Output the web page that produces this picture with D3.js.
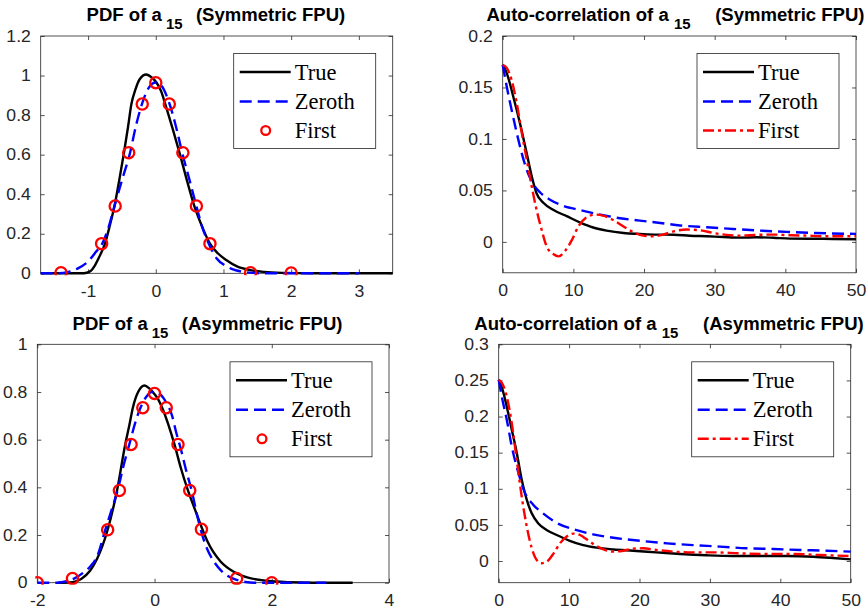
<!DOCTYPE html>
<html>
<head>
<meta charset="utf-8">
<script src="https://cdn.jsdelivr.net/npm/d3@7"></script>
<style>
  body { margin: 0; background: #fff; }
  svg { display: block; }
  .sans { font-family: "Liberation Sans", Arial, Helvetica, sans-serif; }
  .serif { font-family: "Liberation Serif", "Times New Roman", Times, serif; }
</style>
</head>
<body>
<svg id="fig" width="868" height="614"></svg>
<script>
// ---------- PDF of a15, symmetric FPU ----------
const symPdfTrue = [[-1.7,0],[-1.1,0],[-1.02,0.003],[-0.96,0.012],[-0.91,0.034],[-0.84,0.08],[-0.75,0.15],[-0.68,0.24],[-0.61,0.34],[-0.54,0.47],[-0.47,0.61],[-0.41,0.74],[-0.36,0.856],[-0.3,0.93],[-0.24,0.98],[-0.14,1.005],[-0.06,0.99],[0.01,0.965],[0.08,0.92],[0.14,0.856],[0.25,0.73],[0.35,0.61],[0.46,0.47],[0.57,0.34],[0.68,0.24],[0.8,0.15],[0.92,0.1],[1.04,0.067],[1.2,0.035],[1.4,0.016],[1.6,0.007],[1.9,0.002],[2.3,0],[3.5,0]];
const symPdfZeroth = [[-1.7,0],[-1.45,0],[-1.3,0.006],[-1.15,0.025],[-1.0,0.06],[-0.88,0.11],[-0.79,0.15],[-0.7,0.23],[-0.61,0.34],[-0.5,0.47],[-0.38,0.61],[-0.29,0.75],[-0.2,0.86],[-0.1,0.94],[0.0,0.965],[0.08,0.95],[0.2,0.86],[0.3,0.74],[0.39,0.61],[0.5,0.47],[0.6,0.34],[0.68,0.24],[0.77,0.16],[0.9,0.075],[1.02,0.04],[1.14,0.02],[1.3,0.007],[1.45,0.002],[1.6,0],[3.0,0]];
const symPdfFirstX = [-1.4,-0.8,-0.6,-0.4,-0.2,0,0.2,0.4,0.6,0.8,1.4,2.0];
const symPdfFirstY = [0.003,0.15,0.34,0.61,0.856,0.964,0.856,0.61,0.34,0.15,0.003,0.002];

// ---------- Auto-correlation of a15, symmetric FPU ----------
const symAcfTrue = [[0,0.172],[0.57,0.164],[1.5,0.141],[2.45,0.115],[3.4,0.086],[4.1,0.064],[4.8,0.047],[5.75,0.038],[7.2,0.031],[9.05,0.025],[10.9,0.019],[12.8,0.014],[14.7,0.011],[17.1,0.0087],[19.4,0.0078],[21.8,0.0071],[24.2,0.007],[26.5,0.006],[28.9,0.0055],[31.2,0.0048],[33.6,0.0042],[35.9,0.0045],[38.3,0.004],[40.7,0.0032],[45.4,0.003],[50,0.0026]];
const symAcfZeroth = [[0,0.172],[0.57,0.151],[1.27,0.128],[1.98,0.106],[2.7,0.086],[3.4,0.07],[4.3,0.0565],[5.3,0.048],[6.7,0.041],[8.6,0.035],[10.9,0.031],[13.8,0.0265],[16.6,0.023],[19.4,0.0207],[22.3,0.0184],[25.1,0.016],[28.9,0.0142],[32.6,0.0126],[36.4,0.011],[40.2,0.0097],[44.0,0.0087],[50,0.0078]];
const symAcfFirst = [[0,0.172],[0.57,0.169],[1.27,0.157],[1.98,0.135],[2.7,0.106],[3.4,0.08],[4.1,0.054],[4.8,0.031],[5.5,0.012],[6.2,-0.004],[7.2,-0.012],[7.9,-0.014],[8.8,-0.009],[9.8,0.002],[10.7,0.015],[11.7,0.023],[13.1,0.0265],[14.2,0.0255],[15.7,0.021],[17.1,0.015],[18.5,0.0094],[19.9,0.0061],[21.3,0.0055],[22.7,0.0071],[24.2,0.0103],[26.0,0.012],[27.9,0.0113],[29.8,0.0087],[31.7,0.0068],[33.6,0.0061],[35.9,0.0068],[38.3,0.0071],[40.7,0.0065],[43.0,0.0061],[45.4,0.0055],[50,0.0055]];

// ---------- PDF of a15, asymmetric FPU ----------
const asymPdfTrue = [[-1.65,0],[-1.4,0.002],[-1.3,0.01],[-1.24,0.018],[-1.1,0.05],[-0.98,0.1],[-0.8,0.222],[-0.64,0.387],[-0.5,0.58],[-0.43,0.66],[-0.37,0.734],[-0.28,0.8],[-0.17,0.827],[-0.09,0.815],[-0.01,0.794],[0.06,0.77],[0.13,0.734],[0.24,0.66],[0.34,0.58],[0.45,0.48],[0.57,0.387],[0.7,0.3],[0.82,0.222],[0.9,0.175],[1.0,0.13],[1.13,0.088],[1.35,0.046],[1.58,0.022],[1.92,0.008],[2.3,0.002],[2.7,0],[3.38,0]];
const asymPdfZeroth = [[-2,0],[-1.65,0],[-1.5,0.006],[-1.35,0.02],[-1.2,0.045],[-1.1,0.067],[-0.98,0.11],[-0.84,0.222],[-0.74,0.3],[-0.63,0.387],[-0.53,0.49],[-0.43,0.58],[-0.33,0.67],[-0.24,0.734],[-0.14,0.78],[-0.05,0.8],[0.05,0.795],[0.12,0.785],[0.19,0.76],[0.3,0.7],[0.37,0.63],[0.45,0.56],[0.54,0.47],[0.64,0.38],[0.72,0.29],[0.79,0.22],[0.9,0.14],[1.01,0.09],[1.12,0.055],[1.24,0.03],[1.4,0.012],[1.55,0.003],[1.7,0],[2.93,0]];
const asymPdfFirstX = [-2,-1.4,-0.8,-0.6,-0.4,-0.2,0,0.2,0.4,0.6,0.8,1.4,2.0];
const asymPdfFirstY = [0,0.018,0.222,0.387,0.58,0.734,0.794,0.734,0.58,0.387,0.224,0.018,0.0];

// ---------- Auto-correlation of a15, asymmetric FPU ----------
const asymAcfTrue = [[0,0.251],[0.43,0.241],[1.14,0.214],[1.85,0.182],[2.56,0.15],[3.27,0.1125],[3.98,0.085],[4.69,0.066],[5.63,0.052],[6.8,0.043],[8.24,0.036],[10.1,0.028],[12.0,0.022],[13.9,0.0185],[16.3,0.016],[19.1,0.0143],[22.4,0.012],[25.8,0.0097],[29.5,0.0079],[33.3,0.0069],[37.1,0.0069],[40.9,0.0069],[44.7,0.006],[47.5,0.0042],[50,0.0023]];
const asymAcfZeroth = [[0,0.251],[0.43,0.228],[1.14,0.196],[1.85,0.159],[2.8,0.122],[3.74,0.094],[4.9,0.078],[6.3,0.066],[8.2,0.053],[10.6,0.044],[13.4,0.037],[16.8,0.0315],[20.1,0.028],[23.9,0.0245],[27.6,0.022],[31.4,0.02],[35.2,0.0176],[39.0,0.0167],[42.8,0.0153],[46.6,0.0143],[50,0.013]];
const asymAcfFirst = [[0,0.251],[0.43,0.247],[1.14,0.228],[1.85,0.191],[2.56,0.14],[3.27,0.089],[3.98,0.048],[4.69,0.018],[5.4,0.0014],[6.1,-0.003],[6.8,-0.001],[7.8,0.0106],[8.7,0.0245],[9.66,0.034],[10.6,0.038],[11.55,0.036],[12.5,0.03],[13.7,0.022],[14.9,0.016],[16.3,0.013],[17.7,0.0143],[19.1,0.0171],[20.5,0.0176],[22.4,0.0153],[24.8,0.013],[27.6,0.012],[30.5,0.012],[34.3,0.0106],[38.1,0.0097],[41.9,0.0097],[45.6,0.0083],[50,0.0069]];

// ---------- ticks ----------
const pdfSymXTicks = [-1, 0, 1, 2, 3];
const pdfSymXLabels = ["-1", "0", "1", "2", "3"];
const pdfSymYTicks = [0, 0.2, 0.4, 0.6, 0.8, 1, 1.2];
const pdfSymYLabels = ["0", "0.2", "0.4", "0.6", "0.8", "1", "1.2"];
const pdfAsymXTicks = [-2, 0, 2, 4];
const pdfAsymXLabels = ["-2", "0", "2", "4"];
const pdfAsymYTicks = [0, 0.2, 0.4, 0.6, 0.8, 1];
const pdfAsymYLabels = ["0", "0.2", "0.4", "0.6", "0.8", "1"];
const acfXTicks = [0, 10, 20, 30, 40, 50];
const acfXLabels = ["0", "10", "20", "30", "40", "50"];
const acfSymYTicks = [0, 0.05, 0.1, 0.15, 0.2];
const acfSymYLabels = ["0", "0.05", "0.1", "0.15", "0.2"];
const acfAsymYTicks = [0, 0.05, 0.1, 0.15, 0.2, 0.25, 0.3];
const acfAsymYLabels = ["0", "0.05", "0.1", "0.15", "0.2", "0.25", "0.3"];

const seriesNames = ["True", "Zeroth", "First"];

// ---------- drawing ----------
const svg = d3.select("#fig");
const AXIS = "#262626";
const BLUE = "#0000ff", RED = "#ff0000", BLACK = "#000000";
const DASH = "12,6", DASHDOT = "11,4,3,4";
const LINE_W = 2.4;
const TICK_SX = 1.1;   // tick-label horizontal scale
const TITLE_SX = 1.03;

function drawPanel(p) {
  const x = d3.scaleLinear().domain(p.xDomain).range([p.left, p.right]);
  const y = d3.scaleLinear().domain(p.yDomain).range([p.bottom, p.top]);
  const g = svg.append("g").attr("class", "sans");

  const clipId = "clip-" + p.id;
  svg.append("clipPath").attr("id", clipId).append("rect")
    .attr("x", p.left - 2).attr("y", p.top - 2)
    .attr("width", p.right - p.left + 4).attr("height", p.bottom - p.top + 4);

  // axes with inward ticks on all four sides
  const styleAxis = (sel) => {
    sel.select(".domain").remove();
    sel.selectAll(".tick line").attr("stroke", AXIS).attr("stroke-width", 0.8);
    sel.selectAll(".tick text").attr("fill", AXIS).attr("font-size", 16)
      .attr("font-family", null).attr("class", "sans");
  };
  g.append("g").attr("transform", `translate(0,${p.bottom})`)
    .call(d3.axisBottom(x).tickValues(p.xTicks).tickFormat((d, i) => p.xLabels[i])
      .tickSizeInner(-4).tickSizeOuter(0).tickPadding(12))
    .call(styleAxis)
    .call(s => s.selectAll(".tick text").attr("transform", `scale(${TICK_SX},1)`));
  g.append("g").attr("transform", `translate(0,${p.top})`)
    .call(d3.axisTop(x).tickValues(p.xTicks).tickFormat("").tickSizeInner(-4).tickSizeOuter(0))
    .call(styleAxis);
  g.append("g").attr("transform", `translate(${p.left},0)`)
    .call(d3.axisLeft(y).tickValues(p.yTicks).tickFormat((d, i) => p.yLabels[i])
      .tickSizeInner(-4).tickSizeOuter(0).tickPadding(9))
    .call(styleAxis)
    .call(s => s.selectAll(".tick text").attr("transform", `scale(${TICK_SX},1)`));
  g.append("g").attr("transform", `translate(${p.right},0)`)
    .call(d3.axisRight(y).tickValues(p.yTicks).tickFormat("").tickSizeInner(-4).tickSizeOuter(0))
    .call(styleAxis);

  g.append("rect")
    .attr("x", p.left).attr("y", p.top)
    .attr("width", p.right - p.left).attr("height", p.bottom - p.top)
    .attr("fill", "none").attr("stroke", AXIS).attr("stroke-width", 0.8);

  // curves
  const line = d3.line().x(d => x(d[0])).y(d => y(d[1])).curve(d3.curveMonotoneX);
  const plot = g.append("g").attr("clip-path", `url(#${clipId})`);
  plot.append("path").datum(p.trueData).attr("d", line)
    .attr("fill", "none").attr("stroke", BLACK).attr("stroke-width", LINE_W);
  plot.append("path").datum(p.zerothData).attr("d", line)
    .attr("fill", "none").attr("stroke", BLUE).attr("stroke-width", LINE_W)
    .attr("stroke-dasharray", DASH);
  if (p.firstX) {
    plot.selectAll("circle").data(d3.zip(p.firstX, p.firstY)).join("circle")
      .attr("cx", d => x(d[0])).attr("cy", d => y(d[1])).attr("r", 5.6)
      .attr("fill", "none").attr("stroke", RED).attr("stroke-width", 2.3);
  } else {
    plot.append("path").datum(p.firstData).attr("d", line)
      .attr("fill", "none").attr("stroke", RED).attr("stroke-width", LINE_W)
      .attr("stroke-dasharray", DASHDOT);
  }

  // title with subscript
  const tg = svg.append("g").attr("class", "sans")
    .attr("transform", `translate(${p.titleX},${p.titleY}) scale(${TITLE_SX},1)`);
  const t = tg.append("text").attr("text-anchor", "middle").attr("font-weight", "bold")
    .attr("font-size", 18).attr("fill", "#000");
  t.append("tspan").text(p.titleMain);
  t.append("tspan").attr("dx", p.subDx).attr("dy", 8.8).attr("font-size", 14.5).text("15");
  t.append("tspan").attr("dx", p.restDx).attr("dy", -8.8).text(p.titleRest);

  // legend
  const lw = 142, lh = 95;
  const lx = p.right - 17 - lw, ly = p.top + 17.5;
  const lg = svg.append("g").attr("transform", `translate(${lx},${ly})`);
  lg.append("rect").attr("width", lw).attr("height", lh)
    .attr("fill", "#fff").attr("stroke", AXIS).attr("stroke-width", 0.8);
  const rows = [18.5, 48, 77];
  const styles = [
    { stroke: BLACK, dash: null },
    { stroke: BLUE, dash: DASH },
    { stroke: RED, dash: DASHDOT }
  ];
  seriesNames.forEach((name, i) => {
    const ry = rows[i];
    if (i === 2 && p.firstX) {
      lg.append("circle").attr("cx", 32).attr("cy", ry).attr("r", 4.4)
        .attr("fill", "none").attr("stroke", RED).attr("stroke-width", 2.3);
    } else {
      lg.append("line").attr("x1", 6).attr("x2", 57).attr("y1", ry).attr("y2", ry)
        .attr("stroke", styles[i].stroke).attr("stroke-width", LINE_W)
        .attr("stroke-dasharray", styles[i].dash);
    }
    lg.append("text").attr("class", "serif").attr("x", 61).attr("y", ry + 7.5)
      .attr("font-size", 22.5).attr("fill", "#000").text(name);
  });
}

drawPanel({
  id: "tl", left: 40.7, right: 392.7, top: 36, bottom: 273.3,
  xDomain: [-1.7, 3.5], yDomain: [0, 1.2],
  xTicks: pdfSymXTicks, xLabels: pdfSymXLabels, yTicks: pdfSymYTicks, yLabels: pdfSymYLabels,
  trueData: symPdfTrue, zerothData: symPdfZeroth, firstX: symPdfFirstX, firstY: symPdfFirstY,
  titleMain: "PDF of a", titleRest: "(Symmetric FPU)", subDx: 4, restDx: 13,
  titleX: 215.9, titleY: 20.5
});
drawPanel({
  id: "tr", left: 502.7, right: 856, top: 36, bottom: 272.8,
  xDomain: [0, 50], yDomain: [-0.03, 0.2],
  xTicks: acfXTicks, xLabels: acfXLabels, yTicks: acfSymYTicks, yLabels: acfSymYLabels,
  trueData: symAcfTrue, zerothData: symAcfZeroth, firstData: symAcfFirst,
  titleMain: "Auto-correlation of a", titleRest: "(Symmetric FPU)", subDx: 5, restDx: 24,
  titleX: 675.5, titleY: 20.5
});
drawPanel({
  id: "bl", left: 37.3, right: 389, top: 344.3, bottom: 582.7,
  xDomain: [-2, 4], yDomain: [0, 1],
  xTicks: pdfAsymXTicks, xLabels: pdfAsymXLabels, yTicks: pdfAsymYTicks, yLabels: pdfAsymYLabels,
  trueData: asymPdfTrue, zerothData: asymPdfZeroth, firstX: asymPdfFirstX, firstY: asymPdfFirstY,
  titleMain: "PDF of a", titleRest: "(Asymmetric FPU)", subDx: 4, restDx: 13,
  titleX: 207.5, titleY: 329.5
});
drawPanel({
  id: "br", left: 498.7, right: 850.7, top: 344.3, bottom: 582.7,
  xDomain: [0, 50], yDomain: [-0.03, 0.3],
  xTicks: acfXTicks, xLabels: acfXLabels, yTicks: acfAsymYTicks, yLabels: acfAsymYLabels,
  trueData: asymAcfTrue, zerothData: asymAcfZeroth, firstData: asymAcfFirst,
  titleMain: "Auto-correlation of a", titleRest: "(Asymmetric FPU)", subDx: 5, restDx: 24,
  titleX: 669, titleY: 329.5
});
</script>
</body>
</html>
